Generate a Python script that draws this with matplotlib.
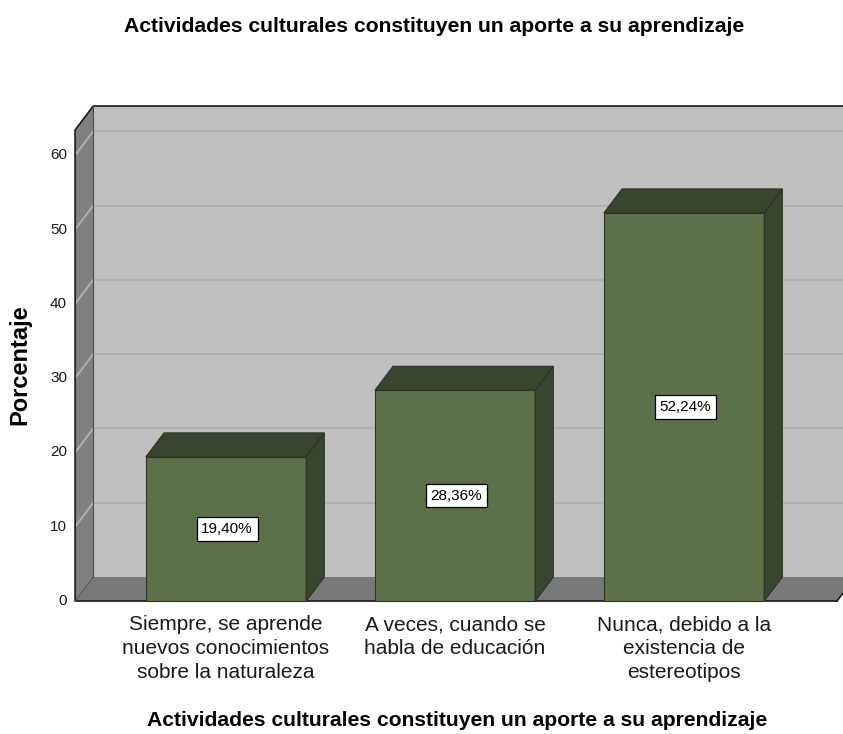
import matplotlib
matplotlib.use("Agg")
import matplotlib.pyplot as plt
from matplotlib.patches import Polygon

plt.rcParams['font.family'] = ['Liberation Sans', 'DejaVu Sans']

# data
categories = [
    "Siempre, se aprende\nnuevos conocimientos\nsobre la naturaleza",
    "A veces, cuando se\nhabla de educación",
    "Nunca, debido a la\nexistencia de\nestereotipos",
]
percentages = [19.40, 28.36, 52.24]
y_ticks = [0, 10, 20, 30, 40, 50, 60]
title = "Actividades culturales constituyen un aporte a su aprendizaje"

# layout of the pseudo-3D box (data units)
XL, XR = -0.659, 2.668      # front plane left/right
YTOP = 63.4                 # top of value axis
DX, DY = 0.079, 3.23        # depth offset
BAR_W = 0.70

WALL = "#c0c0c0"
SIDE_WALL = "#808080"
FLOOR = "#787878"
GRID = "#b0b0b0"
BAR_FRONT = "#5c7049"
BAR_DARK = "#39452e"
BAR_EDGE = "#2b3322"

fig = plt.figure(figsize=(8.43, 7.34), dpi=100)
ax = fig.add_axes([0, 0, 1, 1])
ax.set_xlim(-0.987, 2.694)
ax.set_ylim(-17.9, 80.9)
ax.axis("off")


def poly(pts, fc, ec="none", lw=0, z=1):
    ax.add_patch(Polygon(pts, closed=True, facecolor=fc, edgecolor=ec,
                         linewidth=lw, zorder=z, joinstyle="miter"))


# back wall
poly([(XL + DX, DY), (XR + DX, DY), (XR + DX, YTOP + DY), (XL + DX, YTOP + DY)], WALL, z=1)
# grid lines on back wall and side wall
for t in y_ticks[1:]:
    ax.plot([XL + DX, XR + DX], [t + DY, t + DY], color=GRID, lw=1.4, zorder=2)
# floor
poly([(XL, 0), (XR, 0), (XR + DX, DY), (XL + DX, DY)], FLOOR, z=3)
# left wall
poly([(XL, 0), (XL + DX, DY), (XL + DX, YTOP + DY), (XL, YTOP)], SIDE_WALL, z=3)
for t in y_ticks[1:]:
    ax.plot([XL, XL + DX], [t, t + DY], color=GRID, lw=1.4, zorder=3.5)

# outlines
ax.plot([XR, XL, XL, XL + DX, XR + DX], [0, 0, YTOP, YTOP + DY, YTOP + DY],
        color="#1a1a1a", lw=1.2, zorder=3.6)
ax.plot([XL, XL + DX], [0, DY], color="#555555", lw=0.8, zorder=3.6)
ax.plot([XL + DX, XL + DX], [DY, YTOP + DY], color="#4a4a4a", lw=0.8, zorder=3.6)
ax.plot([XR, XR + DX], [0, DY], color="#1a1a1a", lw=1.2, zorder=3.6)

# bars
for i, v in enumerate(percentages):
    x0, x1 = i - BAR_W / 2, i + BAR_W / 2
    poly([(x0, 0), (x1, 0), (x1, v), (x0, v)], BAR_FRONT, BAR_EDGE, 0.8, z=4)
    poly([(x0, v), (x1, v), (x1 + DX, v + DY), (x0 + DX, v + DY)], BAR_DARK, BAR_EDGE, 0.8, z=4)
    poly([(x1, 0), (x1 + DX, DY), (x1 + DX, v + DY), (x1, v)], BAR_DARK, BAR_EDGE, 0.8, z=4)
    ax.text(i + 0.005, v / 2, f"{v:.2f}%".replace(".", ","), ha="center", va="center",
            fontsize=11, zorder=6,
            bbox=dict(boxstyle="square,pad=0.3", facecolor="white",
                      edgecolor="black", linewidth=0.9))
    ax.text(i, -1.9, categories[i], ha="center", va="top", fontsize=15,
            color="#1a1a1a", linespacing=1.33, zorder=6)

# value axis labels
for t in y_ticks:
    ax.text(XL - 0.035, t, str(t), ha="right", va="center", fontsize=11, color="#1a1a1a")

fig.text(434 / 843, 1 - 26 / 734, title, ha="center", va="center",
         fontsize=15.2, fontweight="bold")
fig.text(457 / 843, 1 - 721 / 734, title, ha="center", va="center",
         fontsize=15.2, fontweight="bold")
fig.text(20 / 843, 1 - 365 / 734, "Porcentaje", ha="center", va="center",
         rotation=90, fontsize=17, fontweight="bold")

fig.savefig("out.png", dpi=100)
